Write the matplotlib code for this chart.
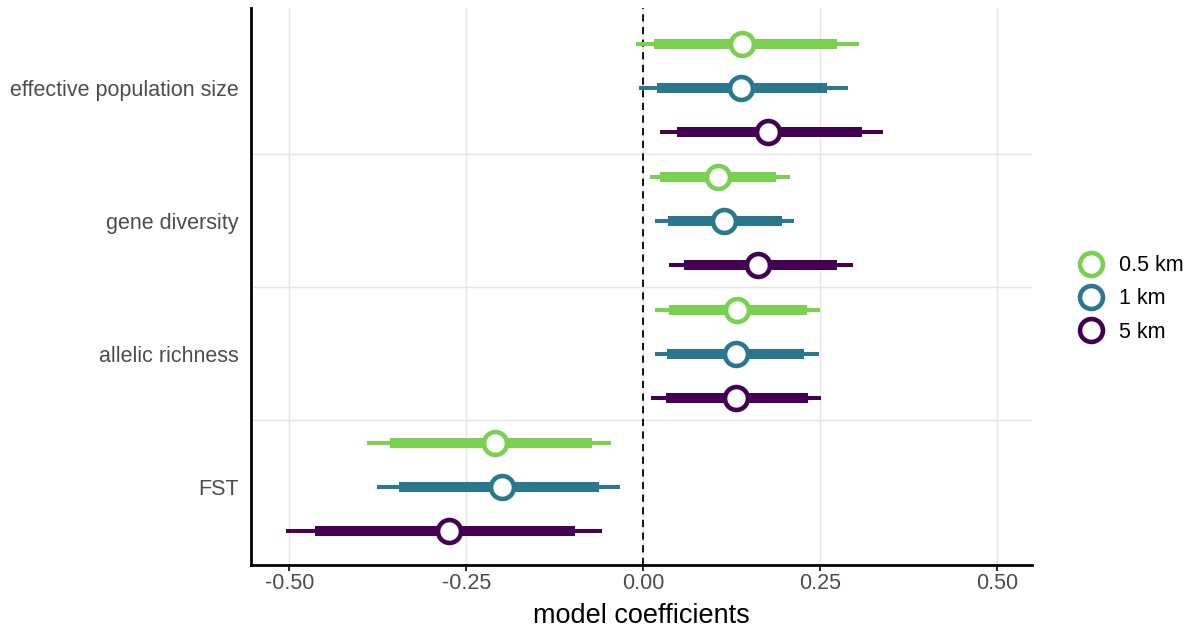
import matplotlib
matplotlib.use("Agg")
import matplotlib.pyplot as plt
from matplotlib.lines import Line2D

plt.rcParams['font.family'] = ['Liberation Sans', 'DejaVu Sans']

variables = ["effective population size", "gene diversity", "allelic richness", "FST"]
scales = ["0.5 km", "1 km", "5 km"]
colors = ["#7AD151", "#2A788E", "#440154"]

# per scale: one value per variable (same order as variables)
estimate = {
    "0.5 km": [0.139, 0.106, 0.132, -0.210],
    "1 km":   [0.138, 0.114, 0.131, -0.199],
    "5 km":   [0.176, 0.162, 0.131, -0.275],
}
inner_low = {
    "0.5 km": [0.015, 0.024, 0.036, -0.357],
    "1 km":   [0.019, 0.035, 0.034, -0.345],
    "5 km":   [0.048, 0.057, 0.032, -0.463],
}
inner_high = {
    "0.5 km": [0.273, 0.188, 0.231, -0.072],
    "1 km":   [0.260, 0.196, 0.227, -0.062],
    "5 km":   [0.309, 0.273, 0.233, -0.096],
}
outer_low = {
    "0.5 km": [-0.010, 0.010, 0.017, -0.390],
    "1 km":   [-0.006, 0.017, 0.016, -0.376],
    "5 km":   [0.023, 0.036, 0.011, -0.504],
}
outer_high = {
    "0.5 km": [0.304, 0.207, 0.250, -0.046],
    "1 km":   [0.289, 0.213, 0.248, -0.033],
    "5 km":   [0.339, 0.296, 0.251, -0.058],
}

fig = plt.figure(figsize=(11.93, 6.31), dpi=100)
ax = fig.add_axes([251/1193, 1 - 565/631, (1032-251)/1193, (565-8)/631])

n = len(variables)
ypos = [n - i for i in range(n)]
offsets = [0.33, 0.0, -0.33]

ax.axvline(0, color="black", linestyle=(0, (4, 3)), linewidth=1.3, zorder=1)

for s, (scale, col, off) in enumerate(zip(scales, colors, offsets)):
    for i in range(n):
        y = ypos[i] + off
        ax.plot([outer_low[scale][i], outer_high[scale][i]], [y, y], color=col,
                linewidth=2.9, solid_capstyle="butt", zorder=2)
        ax.plot([inner_low[scale][i], inner_high[scale][i]], [y, y], color=col,
                linewidth=7.2, solid_capstyle="butt", zorder=3)
        ax.plot(estimate[scale][i], y, marker="o", markersize=16.5, markerfacecolor="white",
                markeredgecolor=col, markeredgewidth=3.3, zorder=4)

ax.set_xlim(-0.554, 0.549)
ax.set_ylim(0.414, 4.6)
ax.set_xticks([-0.5, -0.25, 0, 0.25, 0.5])
ax.set_xticklabels(["-0.50", "-0.25", "0.00", "0.25", "0.50"])
ax.set_yticks(ypos)
ax.set_yticklabels(variables)
ax.set_yticks([1.5, 2.5, 3.5], minor=True)
ax.tick_params(axis="y", which="both", length=0, labelsize=15.5, labelcolor="#4D4D4D", pad=9)
ax.tick_params(axis="x", length=4, width=1.2, labelsize=15.5, labelcolor="#4D4D4D", pad=2)
ax.grid(axis="x", color="#E5E5E5", linewidth=1.0)
ax.grid(axis="y", which="minor", color="#E5E5E5", linewidth=1.0)
ax.set_axisbelow(True)

for side in ["top", "right"]:
    ax.spines[side].set_visible(False)
for side in ["left", "bottom"]:
    ax.spines[side].set_linewidth(2)

ax.set_xlabel("model coefficients", fontsize=19.5, labelpad=6)

handles = [Line2D([], [], linestyle="none", marker="o", markersize=16.5, markerfacecolor="white",
                  markeredgecolor=c, markeredgewidth=3.3) for c in colors]
fig.legend(handles, scales, loc="center left", bbox_to_anchor=(1076/1193, 1 - 299/631),
           frameon=False, fontsize=15.5, handletextpad=0.6, labelspacing=0.56,
           handlelength=1.4, borderaxespad=0, borderpad=0)

fig.savefig("out.png", dpi=100)
